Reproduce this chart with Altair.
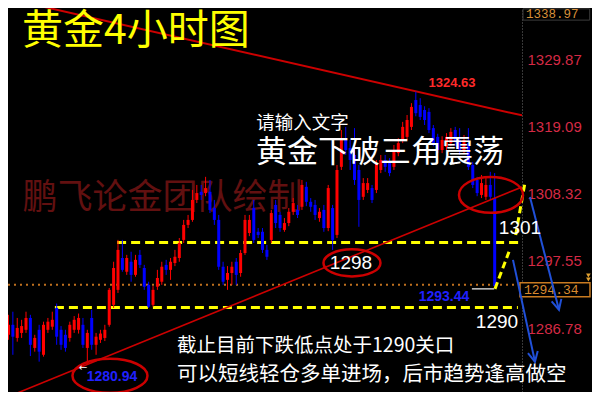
import altair as alt
import pandas as pd
import numpy as np

# ---------------- candle data ----------------
opens = [1285.7, 1287.3, 1285.2, 1286.0, 1286.5, 1288.4, 1283.6, 1286.5, 1282.5, 1286.5,
         1287.0, 1290.0, 1286.5, 1285.7, 1285.2, 1286.5, 1286.5, 1287.3, 1283.6, 1288.4,
         1284.1, 1284.9, 1285.2, 1287.3, 1290.5, 1292.9, 1298.0, 1295.8, 1297.4, 1295.3,
         1298.5, 1296.4, 1293.7, 1290.5, 1293.4, 1294.2, 1296.9, 1296.1, 1297.2, 1298.0,
         1300.9, 1303.3, 1304.1, 1307.3, 1308.6, 1308.4, 1308.6, 1306.0, 1304.1, 1296.6,
         1294.5, 1295.6, 1297.4, 1295.6, 1298.8, 1302.0, 1306.0, 1302.2, 1302.2, 1299.3,
         1300.9, 1306.5, 1304.9, 1302.5, 1303.6, 1305.4, 1305.7, 1306.2, 1309.4, 1307.0,
         1306.5, 1304.4, 1305.7, 1302.8, 1306.0, 1301.7, 1312.6, 1316.9, 1315.6, 1314.5,
         1312.1, 1307.8, 1308.9, 1309.2, 1308.9, 1312.1, 1313.7, 1313.2, 1312.6, 1314.8,
         1316.9, 1317.4, 1319.0, 1323.3, 1322.5, 1321.7, 1321.4, 1318.8, 1317.4, 1315.3,
         1315.8, 1316.4, 1318.5, 1316.9, 1315.3, 1316.4, 1312.9, 1310.5, 1308.1, 1307.8,
         1309.7, 1307.6]
closes = [1287.3, 1285.4, 1286.8, 1287.1, 1288.4, 1284.1, 1285.2, 1283.0, 1287.3, 1287.8,
          1288.1, 1285.4, 1284.1, 1283.6, 1287.3, 1288.1, 1288.4, 1284.1, 1286.0, 1284.1,
          1285.4, 1285.9, 1286.5, 1292.9, 1296.4, 1299.3, 1296.1, 1298.0, 1295.3, 1297.7,
          1296.9, 1293.4, 1290.2, 1292.9, 1294.8, 1296.6, 1296.1, 1297.4, 1298.2, 1300.4,
          1303.3, 1304.1, 1307.3, 1308.4, 1308.1, 1309.2, 1305.7, 1304.1, 1296.6, 1294.2,
          1295.6, 1296.6, 1295.3, 1298.8, 1304.1, 1304.1, 1300.9, 1301.7, 1299.3, 1298.2,
          1305.2, 1303.6, 1302.8, 1303.6, 1305.4, 1306.8, 1304.9, 1309.7, 1307.0, 1306.2,
          1304.9, 1305.4, 1302.8, 1309.2, 1300.9, 1312.1, 1316.9, 1315.3, 1313.7, 1310.5,
          1307.3, 1310.0, 1310.0, 1307.3, 1313.2, 1313.7, 1312.6, 1311.6, 1315.3, 1316.4,
          1319.0, 1320.1, 1322.2, 1321.2, 1320.6, 1320.1, 1318.5, 1316.4, 1315.3, 1316.9,
          1317.4, 1318.2, 1316.6, 1315.3, 1316.9, 1312.6, 1309.7, 1308.4, 1310.0, 1309.7,
          1307.8, 1293.5]
highs = [1288.9, 1289.4, 1288.4, 1288.1, 1289.4, 1288.9, 1285.7, 1287.3, 1287.8, 1288.4,
         1289.4, 1290.7, 1287.1, 1286.5, 1287.8, 1288.7, 1289.1, 1288.4, 1286.5, 1289.7,
         1286.0, 1286.5, 1287.3, 1293.2, 1297.4, 1300.9, 1300.9, 1298.5, 1299.0, 1298.5,
         1299.3, 1296.9, 1294.2, 1293.5, 1296.1, 1297.4, 1297.7, 1298.0, 1299.3, 1301.2,
         1304.1, 1304.9, 1308.9, 1309.7, 1309.7, 1311.0, 1310.5, 1307.3, 1304.9, 1297.4,
         1296.7, 1297.4, 1298.0, 1299.3, 1304.9, 1304.9, 1307.3, 1302.8, 1302.8, 1300.1,
         1305.7, 1307.3, 1305.4, 1304.4, 1306.0, 1307.6, 1306.5, 1310.5, 1310.2, 1307.6,
         1307.3, 1306.0, 1306.5, 1309.7, 1306.5, 1312.9, 1318.5, 1319.0, 1316.9, 1318.8,
         1312.9, 1310.8, 1310.8, 1309.7, 1313.7, 1314.5, 1314.5, 1314.0, 1316.1, 1317.2,
         1319.8, 1320.9, 1322.8, 1324.63, 1323.6, 1322.3, 1322.0, 1319.3, 1317.9, 1317.5,
         1318.0, 1318.8, 1319.0, 1318.8, 1317.7, 1318.8, 1313.4, 1311.0, 1311.3, 1310.8,
         1311.8, 1311.6]
lows = [1284.9, 1282.5, 1284.6, 1285.2, 1286.0, 1282.3, 1283.0, 1281.4, 1282.2, 1286.0,
        1286.5, 1284.1, 1283.3, 1283.0, 1284.6, 1286.0, 1285.9, 1283.6, 1280.94, 1283.3,
        1282.5, 1284.4, 1284.7, 1287.0, 1290.0, 1292.4, 1295.8, 1295.3, 1294.2, 1295.0,
        1296.4, 1292.9, 1290.0, 1290.2, 1292.9, 1293.7, 1295.3, 1294.5, 1296.7, 1297.4,
        1300.4, 1302.8, 1303.8, 1306.8, 1307.3, 1307.9, 1305.2, 1303.3, 1296.1, 1293.7,
        1292.9, 1293.7, 1293.7, 1295.0, 1298.5, 1301.5, 1300.4, 1301.2, 1298.8, 1297.7,
        1300.4, 1302.8, 1302.2, 1302.2, 1303.1, 1304.9, 1304.4, 1305.7, 1306.3, 1305.4,
        1304.1, 1303.8, 1302.2, 1302.3, 1299.3, 1301.2, 1312.1, 1314.5, 1312.1, 1309.7,
        1303.0, 1307.3, 1308.4, 1306.8, 1308.4, 1311.6, 1311.8, 1311.1, 1312.1, 1314.3,
        1316.4, 1316.9, 1318.5, 1320.7, 1320.1, 1319.3, 1318.0, 1315.9, 1314.8, 1314.8,
        1315.3, 1315.9, 1315.9, 1314.5, 1314.8, 1312.1, 1309.2, 1307.9, 1307.6, 1307.3,
        1307.3, 1293.44]

# price axis
axis_levels = [1329.87, 1319.09, 1308.32, 1297.55, 1286.78]
top_price_label = "1338.97"
last_price_label = "1294.34"
bid_level = 1293.7

# key levels / annotations
yellow_levels = [1300.48, 1290.07]
yellow_from = [24.8, 10.6]
yellow_to = [116.8, 116.3]

title_text = "黄金4小时图"
watermark_text = "鹏飞论金团队绘制"
hint_text = "请输入文字"
headline_text = "黄金下破三角震荡"
note_lines = ["截止目前下跌低点处于1290关口", "可以短线轻仓多单进场，后市趋势逢高做空"]

# ---------------- scales ----------------
X_DOMAIN = [-0.11, 117.24]
Y_DOMAIN = [1276.54, 1338.04]
xs = alt.Scale(domain=X_DOMAIN, nice=False, zero=False)
ys = alt.Scale(domain=Y_DOMAIN, nice=False, zero=False)
yaxis = alt.Axis(orient="right", values=axis_levels, format=".2f", title=None,
                 ticks=False, grid=False, labelColor="#d42a45",
                 labelFont="Liberation Sans", labelFontSize=15, labelPadding=5,
                 labelOverlap=False, labelFlush=False, labelBound=False,
                 domainColor="#707070", domainDash=[1, 2], domainWidth=1)


def X(f):
    return alt.X(f"{f}:Q", scale=xs, axis=None)


def Y(f):
    return alt.Y(f"{f}:Q", scale=ys, axis=yaxis)


# ---------------- candles ----------------
n = len(opens)
cdf = pd.DataFrame({"i": np.arange(n), "o": opens, "c": closes, "h": highs, "l": lows})
cdf["dir"] = np.where(cdf["c"] >= cdf["o"], "up", "down")
ccol = alt.Color("dir:N", scale=alt.Scale(domain=["up", "down"], range=["#ff0000", "#0000ff"]),
                 legend=None)
wicks = alt.Chart(cdf).mark_rule(strokeWidth=1).encode(x=X("i"), y=Y("l"), y2=alt.Y2("h"), color=ccol)
bodies = alt.Chart(cdf).mark_rule(strokeWidth=3, strokeCap="butt").encode(
    x=X("i"), y=Y("o"), y2=alt.Y2("c"), color=ccol)


def txt(df, **kw):
    return alt.Chart(df).mark_text(**kw).encode(x=X("i"), y=Y("p"), text="t:N")


# watermark (behind candles)
wm = txt(pd.DataFrame({"i": [3.2], "p": [1307.62], "t": [watermark_text]}),
         align="left", baseline="middle", font="Noto Sans CJK SC", fontSize=35, color="#621010")

# trend lines
up_tl = alt.Chart(pd.DataFrame({"i": [0, 117.24], "p": [1339.51, 1320.84]})).mark_line(
    clip=True, color="#cc0000", strokeWidth=2).encode(x=X("i"), y=Y("p"))
lo_tl = alt.Chart(pd.DataFrame({"i": [0, 117.24], "p": [1275.80, 1309.37]})).mark_line(
    clip=True, color="#cc0000", strokeWidth=1.6).encode(x=X("i"), y=Y("p"))

# bid dotted line
bid = alt.Chart(pd.DataFrame({"a": [X_DOMAIN[0]], "b": [X_DOMAIN[1]], "p": [bid_level]})).mark_rule(
    color="#c0701e", strokeDash=[2, 4], strokeWidth=2).encode(x=X("a"), x2=alt.X2("b"), y=Y("p"))

# yellow support lines
ydf = pd.DataFrame({"a": yellow_from, "b": yellow_to, "p": yellow_levels})
yl = alt.Chart(ydf).mark_rule(color="#ffff00", strokeWidth=3, strokeDash=[9, 5]).encode(
    x=X("a"), x2=alt.X2("b"), y=Y("p"))
zz = alt.Chart(pd.DataFrame({"g": ["a", "a", "b", "b"], "i": [111.07, 114.27, 115.8, 117.9],
                             "p": [1293.06, 1299.0, 1301.7, 1310.0]})).mark_line(
    color="#ffff00", strokeWidth=3, strokeDash=[7, 4]).encode(x=X("i"), y=Y("p"), detail="g:N")

# low marker of last candle
lowtick = alt.Chart(pd.DataFrame({"a": [105.8], "b": [110.9], "p": [1293.06]})).mark_rule(
    color="#c8c8c8", strokeWidth=1.5).encode(x=X("a"), x2=alt.X2("b"), y=Y("p"))


def ell(r):
    return f"M-1,0A1,{r},0,1,0,1,0A1,{r},0,1,0,-1,0Z"


edf = pd.DataFrame({"i": [78.42, 23.17, 110.16], "p": [1297.22, 1279.14, 1308.1],
                    "s": [ell(0.474), ell(0.453), ell(0.56)], "z": [3249, 5625, 4096]})
ells = alt.Chart(edf).mark_point(filled=False, strokeWidth=2.5, color="#cc0000", opacity=1).encode(
    x=X("i"), y=Y("p"), shape=alt.Shape("s:N", scale=None), size=alt.Size("z:Q", scale=None))

# price boxes on the axis
box_top = alt.Chart(pd.DataFrame({"a": [117.47], "b": [132.7], "p1": [1337.9], "p2": [1336.1]})).mark_rect(
    fill="#000000", stroke="#3c3c3c", strokeWidth=1).encode(x=X("a"), x2=alt.X2("b"), y=Y("p1"), y2=alt.Y2("p2"))
box_bid = alt.Chart(pd.DataFrame({"a": [116.78], "b": [132.76], "p1": [1294.02], "p2": [1291.78]})).mark_rect(
    fill="#000000", stroke="#c87a20", strokeWidth=1.5).encode(x=X("a"), x2=alt.X2("b"), y=Y("p1"), y2=alt.Y2("p2"))
t_top = txt(pd.DataFrame({"i": [118.15], "p": [1337.0], "t": [top_price_label]}),
            align="left", baseline="middle", font="Liberation Mono", fontSize=12.5, color="#d8903a")
t_bid = txt(pd.DataFrame({"i": [117.69], "p": [1292.9], "t": [last_price_label]}),
            align="left", baseline="middle", font="Liberation Mono", fontSize=13, color="#d88a30")
tri = alt.Chart(pd.DataFrame({"i": [132.4, 132.4], "p": [1295.2, 1294.55]})).mark_point(
    shape="triangle-down", filled=True, size=22, color="#e0a030", opacity=1).encode(x=X("i"), y=Y("p"))

# blue arrows
shafts = alt.Chart(pd.DataFrame({"g": ["a", "a", "b", "b"], "i": [119.06, 125.68, 115.18, 120.2],
                                 "p": [1307.78, 1289.7, 1297.7, 1281.38]})).mark_line(
    color="#2050d8", strokeWidth=2).encode(x=X("i"), y=Y("p"), detail="g:N")
heads = alt.Chart(pd.DataFrame({"i": [125.68, 120.2], "p": [1289.7, 1281.38], "ang": [345.6, 347.8]})).mark_point(
    shape="M-0.5,-1L0,0L0.5,-1", filled=False, size=400, strokeWidth=2, color="#2050d8", opacity=1).encode(
    x=X("i"), y=Y("p"), angle=alt.Angle("ang:Q", scale=None))

# texts
title = txt(pd.DataFrame({"i": [3.08], "p": [1334.25], "t": [title_text]}),
            align="left", baseline="middle", font="Noto Sans CJK SC", fontSize=41, color="#ffff00")
hint = txt(pd.DataFrame({"i": [67.12], "p": [1319.6], "t": [hint_text]}),
           align="center", baseline="middle", font="Noto Sans CJK SC", fontSize=18.5, color="#ffffff")
head = txt(pd.DataFrame({"i": [84.82], "p": [1314.8], "t": [headline_text]}),
           align="center", baseline="middle", font="Noto Sans CJK SC", fontSize=31, color="#ffffff")
note1 = txt(pd.DataFrame({"i": [38.47], "p": [1283.9], "t": [note_lines[0]]}),
            align="left", baseline="middle", font="Noto Sans CJK SC", fontSize=19.5, color="#ffffff")
note2 = txt(pd.DataFrame({"i": [38.47], "p": [1279.3], "t": [note_lines[1]]}),
            align="left", baseline="middle", font="Noto Sans CJK SC", fontSize=20.5, color="#ffffff")
white_nums = txt(pd.DataFrame({"i": [78.2, 116.78, 111.53], "p": [1297.22, 1302.82, 1287.78],
                               "t": ["1298", "1301", "1290"]}),
                 align="center", baseline="middle", font="Liberation Sans", fontSize=19, color="#ffffff")
high_lbl = txt(pd.DataFrame({"i": [101.26], "p": [1326.02], "t": ["1324.63"]}),
               align="center", baseline="middle", font="Liberation Sans", fontSize=13,
               fontWeight="bold", color="#ff2a2a")
low_lbls = txt(pd.DataFrame({"i": [23.63, 99.43], "p": [1278.98, 1291.78], "t": ["1280.94", "1293.44"]}),
               align="center", baseline="middle", font="Liberation Sans", fontSize=14,
               fontWeight="bold", color="#2020ff")
low_arrow = txt(pd.DataFrame({"i": [17.0], "p": [1280.42], "t": ["←"]}),
                align="center", baseline="middle", font="DejaVu Sans", fontSize=10, color="#ffffff")

chart = alt.layer(
    wm, up_tl, bid, yl, wicks, bodies, lo_tl, zz, lowtick, ells,
    box_top, box_bid, t_top, t_bid, tri, shafts, heads,
    title, hint, head, note1, note2, white_nums, high_lbl, low_lbls, low_arrow
).properties(
    width=514, height=384, background="#000000",
    padding={"left": 0, "top": 0, "right": 70, "bottom": 0},
    autosize=alt.AutoSizeParams(type="none"),
).configure_view(stroke=None)

chart.save("out.html", embed_options={"renderer": "svg", "actions": False})
